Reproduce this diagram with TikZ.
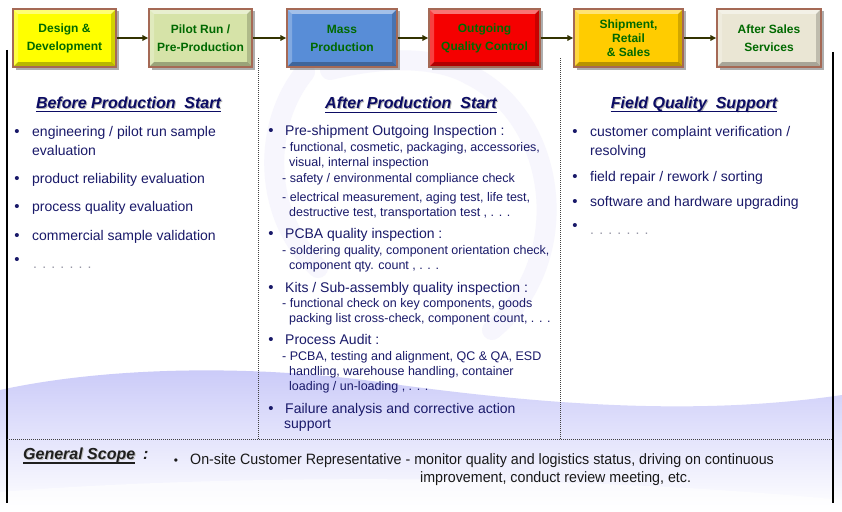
\documentclass[tikz,border=0pt]{standalone}
\usepackage{fontspec}
\setmainfont{Liberation Sans}
\newfontfamily\narrowfont{Liberation Sans}[FakeStretch=0.95]
\usetikzlibrary{arrows.meta,shadows}

\definecolor{txtnavy}{RGB}{25,25,105}
\definecolor{hdrnavy}{RGB}{12,12,100}
\definecolor{boxgreen}{RGB}{0,105,0}
\definecolor{stageborder}{RGB}{165,105,85}
\definecolor{arrowcol}{RGB}{51,51,0}
\definecolor{lav}{RGB}{200,200,248}
\definecolor{lavmid}{RGB}{222,222,250}
\definecolor{wmark}{RGB}{247,246,253}
\definecolor{cYellow}{RGB}{255,255,0}
\definecolor{cPilot}{RGB}{214,227,168}
\definecolor{cBlue}{RGB}{88,141,215}
\definecolor{cRed}{RGB}{245,0,0}
\definecolor{cGold}{RGB}{255,204,0}
\definecolor{cBeige}{RGB}{234,230,212}
\definecolor{dotgray}{RGB}{150,150,165}

\def\ppb{path picture bounding box}

\tikzset{
  stagebox/.style={draw=stageborder, line width=1.4pt, minimum height=58pt, inner sep=0pt,
    align=center, text=boxgreen, font=\fontsize{12}{18}\selectfont\bfseries,
    drop shadow={shadow xshift=2.5pt, shadow yshift=-2.5pt, opacity=.45, fill=black!70},
    path picture={
      \fill[white,opacity=.45] (\ppb.north west) -- (\ppb.north east) -- ([shift={(-5pt,-5pt)}]\ppb.north east) -- ([shift={(5pt,-5pt)}]\ppb.north west) -- cycle;
      \fill[white,opacity=.25] (\ppb.north west) -- (\ppb.south west) -- ([shift={(5pt,5pt)}]\ppb.south west) -- ([shift={(5pt,-5pt)}]\ppb.north west) -- cycle;
      \fill[black,opacity=.28] (\ppb.south west) -- (\ppb.south east) -- ([shift={(-5pt,5pt)}]\ppb.south east) -- ([shift={(5pt,5pt)}]\ppb.south west) -- cycle;
      \fill[black,opacity=.18] (\ppb.north east) -- (\ppb.south east) -- ([shift={(-5pt,5pt)}]\ppb.south east) -- ([shift={(-5pt,-5pt)}]\ppb.north east) -- cycle;
    }},
  flowarrow/.style={draw=arrowcol, line width=1.6pt, -{Triangle[length=6pt,width=5.5pt]}},
  frameline/.style={draw=black, line width=1.1pt},
  dotline/.style={draw=black!75, line width=0.7pt, dash pattern=on 0.8pt off 1.2pt},
  bodytxt/.style={anchor=base west, inner sep=0pt, text=txtnavy, font=\fontsize{14}{16}\selectfont},
  subtxt/.style={anchor=base west, inner sep=0pt, text=txtnavy, font=\fontsize{12.5}{15}\selectfont},
  bul/.style={anchor=base, inner sep=0pt, text=txtnavy, font=\fontsize{15}{16}\selectfont},
  dotstxt/.style={anchor=base west, inner sep=0pt, text=dotgray, font=\fontsize{14}{16}\selectfont},
  hdr/.style={anchor=base, inner sep=0pt, text=hdrnavy, font=\fontsize{16}{18}\selectfont\bfseries\itshape},
  hdrshadow/.style={anchor=base, inner sep=0pt, text=black!30, font=\fontsize{16}{18}\selectfont\bfseries\itshape},
  hline/.style={draw=hdrnavy, line width=1.3pt},
  gstxt/.style={anchor=base west, inner sep=0pt, text=black!88, font=\fontsize{16}{18}\selectfont\bfseries\itshape},
  gsshadow/.style={anchor=base west, inner sep=0pt, text=black!25, font=\fontsize{16}{18}\selectfont\bfseries\itshape},
  scopetxt/.style={anchor=base west, inner sep=0pt, text=black!90, font=\fontsize{15}{16}\narrowfont},
  wmstroke/.style={draw=wmark, line width=20pt, line cap=round},
}

\begin{document}
\begin{tikzpicture}[x=1pt,y=-1pt]
\useasboundingbox (0,0) rectangle (842,511);
\fill[white] (0,0) rectangle (842,511);

% watermark swirl
\draw[wmstroke] (305,72) .. controls (262,125) and (262,215) .. (318,268);
\draw[wmstroke] (470,75) .. controls (560,120) and (575,262) .. (492,330);
\draw[wmstroke] (330,70) .. controls (390,55) and (440,58) .. (470,75);

% lavender background band
\shade[top color=lav, middle color=lavmid, bottom color=white]
  (0,390) .. controls (100,368) and (250,362) .. (400,385)
  .. controls (550,405) and (700,416) .. (842,395) -- (842,511) -- (0,511) -- cycle;
\fill[white,opacity=.6] (0,492) .. controls (250,472) and (600,476) .. (842,500) -- (842,511) -- (0,511) -- cycle;

% frame lines
\coordinate (fl1) at (7,50);
\coordinate (fl2) at (7,503);
\coordinate (fr1) at (833,52);
\coordinate (fr2) at (833,503);
\draw[frameline] (fl1) -- (fl2);
\draw[frameline] (fr1) -- (fr2);

% dotted separators
\coordinate (d1t) at (258,58);
\coordinate (d1b) at (258,439);
\coordinate (d2t) at (560,58);
\coordinate (d2b) at (560,439);
\coordinate (hl) at (7,439);
\coordinate (hr) at (833,439);
\draw[dotline] (d1t) -- (d1b);
\draw[dotline] (d2t) -- (d2b);
\draw[dotline] (hl) -- (hr);

% process stages
\node[stagebox, fill=cYellow, minimum width=103pt] (s1) at (64.5,38) {Design \&\\Development};
\node[stagebox, fill=cPilot, minimum width=103pt] (s2) at (200.5,38) {Pilot Run /\\Pre-Production};
\node[stagebox, fill=cBlue, minimum width=110pt] (s3) at (342,38) {Mass\\Production};
\node[stagebox, fill=cRed, minimum width=111pt] (s4) at (484.5,38) {Outgoing\\Quality Control};
\node[stagebox, fill=cGold, minimum width=109pt, font=\fontsize{12}{14}\selectfont\bfseries] (s5) at (628.5,38) {Shipment,\\Retail\\\& Sales};
\node[stagebox, fill=cBeige, minimum width=104pt] (s6) at (769,38) {After Sales\\Services};

\draw[flowarrow] (s1) -- (s2);
\draw[flowarrow] (s2) -- (s3);
\draw[flowarrow] (s3) -- (s4);
\draw[flowarrow] (s4) -- (s5);
\draw[flowarrow] (s5) -- (s6);

% headers
\node[hdrshadow] (h1s) at (129.5,109.2) {Before Production\ \ Start};
\node[hdr] (h1) at (128.5,108) {Before Production\ \ Start};
\draw[hline] ([yshift=-3.8pt]h1.base west) -- ([yshift=-3.8pt]h1.base east);
\node[hdrshadow] (h2s) at (412,109.7) {After Production\ \ Start};
\node[hdr] (h2) at (411,108.5) {After Production\ \ Start};
\draw[hline] ([yshift=-3.8pt]h2.base west) -- ([yshift=-3.8pt]h2.base east);
\node[hdrshadow] (h3s) at (695,109.2) {Field\ Quality\ \ Support};
\node[hdr] (h3) at (694,108) {Field\ Quality\ \ Support};
\draw[hline] ([yshift=-3.8pt]h3.base west) -- ([yshift=-3.8pt]h3.base east);

% left column
\node[bul] (lb1) at (17,136.5) {\textbullet};
\node[bodytxt] (l1) at (32,136.5) {engineering / pilot run sample};
\node[bodytxt] (l1b) at (32,155.5) {evaluation};
\node[bul] (lb2) at (17,183.5) {\textbullet};
\node[bodytxt] (l2) at (32,183.5) {product reliability evaluation};
\node[bul] (lb3) at (17,211.5) {\textbullet};
\node[bodytxt] (l3) at (32,211.5) {process quality evaluation};
\node[bul] (lb4) at (17,240.5) {\textbullet};
\node[bodytxt] (l4) at (32,240.5) {commercial\ sample validation};
\node[bul] (lb5) at (17,264) {\textbullet};
\node[dotstxt] (l5) at (33,268) {. . . . . . .};

% middle column
\node[bul] (mb1) at (271,135.5) {\textbullet};
\node[bodytxt] (m1) at (285,135.5) {Pre-shipment\ Outgoing\ Inspection :};
\node[subtxt] (m1a) at (282,151) {- functional, cosmetic, packaging, accessories,};
\node[subtxt] (m1a2) at (289,166) {visual, internal inspection};
\node[subtxt] (m1b) at (282,182.5) {- safety / environmental compliance check};
\node[subtxt] (m1c) at (282,201) {- electrical measurement, aging test, life test,};
\node[subtxt] (m1c2) at (289,216) {destructive test, transportation test , . . .};

\node[bul] (mb2) at (271,238) {\textbullet};
\node[bodytxt] (m2) at (285,238) {PCBA quality inspection :};
\node[subtxt] (m2a) at (282,254) {- soldering quality, component orientation check,};
\node[subtxt] (m2a2) at (289,269) {component qty. count , . . .};

\node[bul] (mb3) at (271,292) {\textbullet};
\node[bodytxt] (m3) at (285,292) {Kits / Sub-assembly quality inspection :};
\node[subtxt] (m3a) at (282,307) {- functional check on key components, goods};
\node[subtxt] (m3a2) at (289,322) {packing list cross-check, component count, . . .};

\node[bul] (mb4) at (271,344.5) {\textbullet};
\node[bodytxt] (m4) at (285,344.5) {Process Audit :};
\node[subtxt] (m4a) at (282,360.5) {- PCBA, testing and alignment, QC \& QA, ESD};
\node[subtxt] (m4a2) at (289,375.5) {handling, warehouse handling, container};
\node[subtxt] (m4a3) at (289,390.5) {loading / un-loading , . . .};

\node[bul] (mb5) at (271,413.5) {\textbullet};
\node[bodytxt] (m5) at (285,413.5) {Failure analysis and corrective action};
\node[bodytxt] (m5b) at (284,428.5) {support};

% right column
\node[bul] (rb1) at (575,136.5) {\textbullet};
\node[bodytxt] (r1) at (590,136.5) {customer complaint verification /};
\node[bodytxt] (r1b) at (590,155.5) {resolving};
\node[bul] (rb2) at (575,181.5) {\textbullet};
\node[bodytxt] (r2) at (590,181.5) {field repair / rework / sorting};
\node[bul] (rb3) at (575,206.5) {\textbullet};
\node[bodytxt] (r3) at (590,206.5) {software and hardware upgrading};
\node[bul] (rb4) at (575,230) {\textbullet};
\node[dotstxt] (r4) at (590,234) {. . . . . . .};

% general scope
\node[gsshadow] (gss) at (24,460.5) {General Scope};
\node[gstxt] (gs) at (23,459.5) {General Scope};
\draw[draw=black!88, line width=1.2pt] ([yshift=-3.5pt]gs.base west) -- ([yshift=-3.5pt]gs.base east);
\node[gstxt] (gsc) at (143,459.5) {:};
\node[anchor=base, inner sep=0pt, text=black!90, font=\fontsize{12}{14}\selectfont] (gb) at (176,464) {\textbullet};
\node[scopetxt] (g1) at (190,464) {On-site Customer Representative - monitor quality and logistics status, driving on continuous};
\node[scopetxt] (g2) at (420,482) {improvement,\ conduct review meeting, etc.};
\end{tikzpicture}
\end{document}
